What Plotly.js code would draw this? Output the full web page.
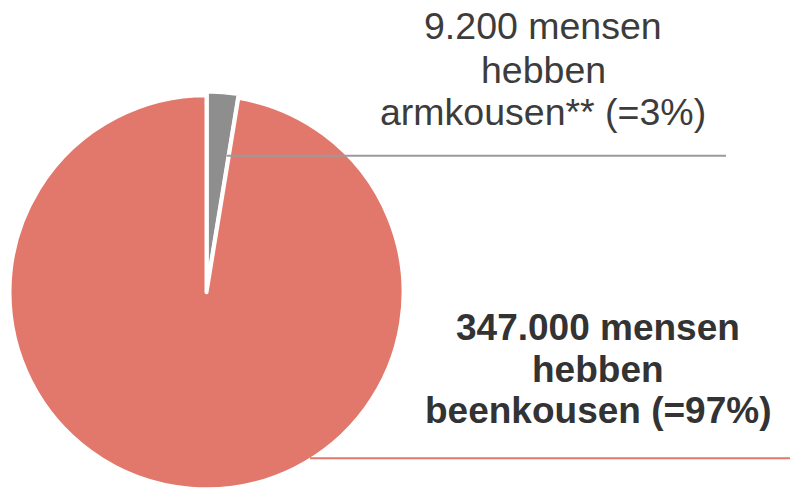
<!DOCTYPE html>
<html>
<head>
<meta charset="utf-8">
<script src="https://cdn.plot.ly/plotly-3.0.1.min.js"></script>
<style>
  html, body { margin: 0; padding: 0; overflow: hidden; background: #ffffff; }
  #chart { width: 790px; height: 496px; }
</style>
</head>
<body>
<div id="chart"></div>
<script>
// ---- data ----
const categories = ['armkousen', 'beenkousen'];
const values = [9200, 347000];
const sliceColors = ['#8e8e8e', '#e1786b'];
const labelArm = ['9.200 mensen', 'hebben', 'armkousen** (=3%)'];
const labelBeen = ['347.000 mensen', 'hebben', 'beenkousen (=97%)'];

// ---- layout helpers (pixel -> paper) ----
const W = 790, H = 496;
const px = x => x / W;
const py = y => 1 - y / H;

const trace = {
  type: 'pie',
  labels: categories,
  values: values,
  sort: false,
  direction: 'clockwise',
  rotation: 0,
  pull: [0.02, 0],
  textinfo: 'none',
  hoverinfo: 'label+value+percent',
  marker: { colors: sliceColors, line: { color: '#ffffff', width: 4 } },
  domain: { x: [0.00703, 0.51576], y: [0.00554, 0.8158] },
  showlegend: false
};

const annotations = [];
const armBase = [26.4, 70.4, 111.8];
labelArm.forEach((t, i) => annotations.push({
  text: t, xref: 'paper', yref: 'paper', x: px(543.4), y: py(armBase[i]),
  xanchor: 'center', yanchor: 'middle', showarrow: false,
  font: { family: 'Liberation Sans, Arial, sans-serif', size: 37.5, color: '#3c3c3c' }
}));
const beenBase = [327.2, 369.9, 410.7];
labelBeen.forEach((t, i) => annotations.push({
  text: '<b>' + t + '</b>', xref: 'paper', yref: 'paper', x: px(597.5), y: py(beenBase[i]),
  xanchor: 'center', yanchor: 'middle', showarrow: false,
  font: { family: 'Liberation Sans, Arial, sans-serif', size: 37, color: '#333333' }
}));

const shapes = [
  { type: 'line', xref: 'paper', yref: 'paper', x0: px(226.7), x1: px(726), y0: py(155.8), y1: py(155.8),
    line: { color: '#9a9a9a', width: 2 } },
  { type: 'line', xref: 'paper', yref: 'paper', x0: px(310), x1: px(790), y0: py(458.3), y1: py(458.3),
    line: { color: '#e1786b', width: 2 } }
];

const layout = {
  width: W, height: H,
  margin: { l: 0, r: 0, t: 0, b: 0, pad: 0 },
  paper_bgcolor: '#ffffff',
  plot_bgcolor: '#ffffff',
  showlegend: false,
  annotations: annotations,
  shapes: shapes
};

Plotly.newPlot('chart', [trace], layout, { staticPlot: true, displayModeBar: false });
</script>
</body>
</html>
